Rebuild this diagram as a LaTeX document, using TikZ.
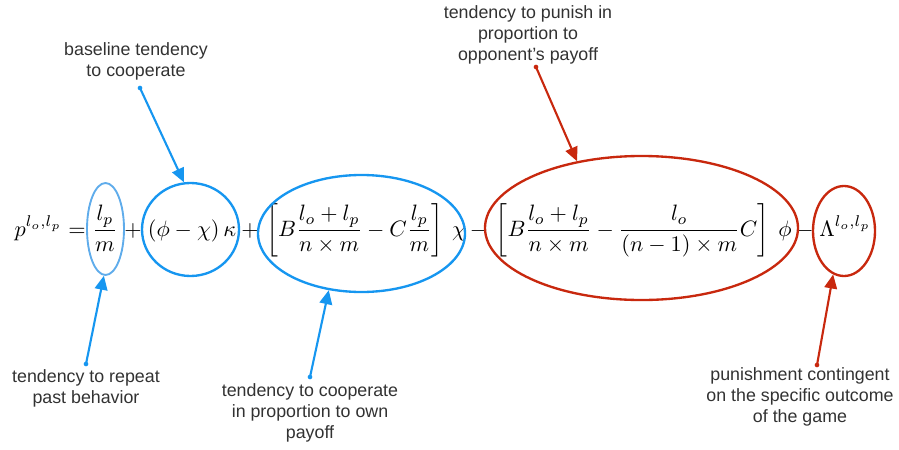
\documentclass[tikz,border=0pt]{standalone}
\usepackage{fontspec}
\newfontfamily\lab{Liberation Sans}
\usetikzlibrary{shapes.geometric,arrows.meta}
\definecolor{cblue}{RGB}{22,150,240}
\definecolor{lblue}{RGB}{95,172,235}
\definecolor{cred}{RGB}{200,40,14}
\definecolor{txtgray}{RGB}{50,50,50}
\newcommand\mth[1]{\scalebox{1.9}{$\displaystyle #1$}}
\begin{document}
\begin{tikzpicture}[x=0.03cm,y=-0.03cm,
  lbl/.style={font=\lab\fontsize{15.2}{17.9}\selectfont, text=txtgray, align=center, inner sep=0pt},
  ring/.style={ellipse, draw, line width=2pt, inner sep=0pt},
  term/.style={inner sep=0pt, anchor=base},
  pointer/.style={line width=1.8pt, -{Triangle[length=0.42cm,width=0.38cm]}},
  dotmark/.style={circle, fill, inner sep=0pt, minimum size=0.14cm}]
\useasboundingbox (0,0) rectangle (899,449);
% equation pieces
\node[term, anchor=base east] (q0) at (62,236) {\mth{p^{l_o,l_p}}};
\node[term] (q1) at (77,236) {\mth{=}};
\node[term] (q2) at (105,236) {\mth{\frac{l_p}{m}}};
\node[term] (q3) at (133,236) {\mth{+}};
\node[term] (q4) at (192,236) {\mth{(\phi-\chi)\,\kappa}};
\node[term] (q5) at (250,236) {\mth{+}};
\node[term] (q6) at (355,236) {\mth{\left[B\frac{l_o+l_p}{n\times m}-C\frac{l_p}{m}\right]}};
\node[term] (q7) at (459,236) {\mth{\chi}};
\node[term] (q8) at (478.5,236) {\mth{-}};
\node[term] (q9) at (632.5,236) {\mth{\left[B\frac{l_o+l_p}{n\times m}-\frac{l_o}{(n-1)\times m}C\right]}};
\node[term] (q10) at (785,236) {\mth{\phi}};
\node[term] (q11) at (805,236) {\mth{-}};
\node[term] (q12) at (845,236) {\mth{\Lambda^{l_o,l_p}}};
% ellipses
\node[ring, draw=lblue, line width=1.6pt, minimum width=1.11cm, minimum height=2.76cm] (e1) at (105.5,229) {};
\node[ring, draw=cblue, minimum width=2.91cm, minimum height=2.79cm] (e2) at (190.5,229.5) {};
\node[ring, draw=cblue, minimum width=6.21cm, minimum height=3.51cm] (e3) at (361.5,233.5) {};
\node[ring, draw=cred, minimum width=9.39cm, minimum height=4.32cm] (e4) at (641.5,228) {};
\node[ring, draw=cred, minimum width=1.86cm, minimum height=2.7cm] (e5) at (844,231) {};
% labels
\node[lbl] (t2) at (136,61) {baseline tendency\\to cooperate};
\node[lbl] (t4) at (528,35) {tendency to punish in\\proportion to\\opponent’s payoff};
\node[lbl] (t1) at (86,388) {tendency to repeat\\past behavior};
\node[lbl] (t3) at (310,413) {tendency to cooperate\\in proportion to own\\payoff};
\node[lbl] (t5) at (800,397) {punishment contingent\\on the specific outcome\\of the game};
% pointer start dots
\node[dotmark, fill=cblue] (d2) at (140,88) {};
\node[dotmark, fill=cred] (d4) at (536,67) {};
\node[dotmark, fill=cblue] (d1) at (86,364) {};
\node[dotmark, fill=cblue] (d3) at (310,377) {};
\node[dotmark, fill=cred] (d5) at (817,365) {};
% pointers
\draw[pointer, cblue] (d2.center) -- (e2.98);
\draw[pointer, cred] (d4.center) -- (e4.134);
\draw[pointer, cblue] (d1.center) -- (e1.268);
\draw[pointer, cblue] (d3.center) -- (e3.240);
\draw[pointer, cred] (d5.center) -- (e5.256);
\end{tikzpicture}
\end{document}
